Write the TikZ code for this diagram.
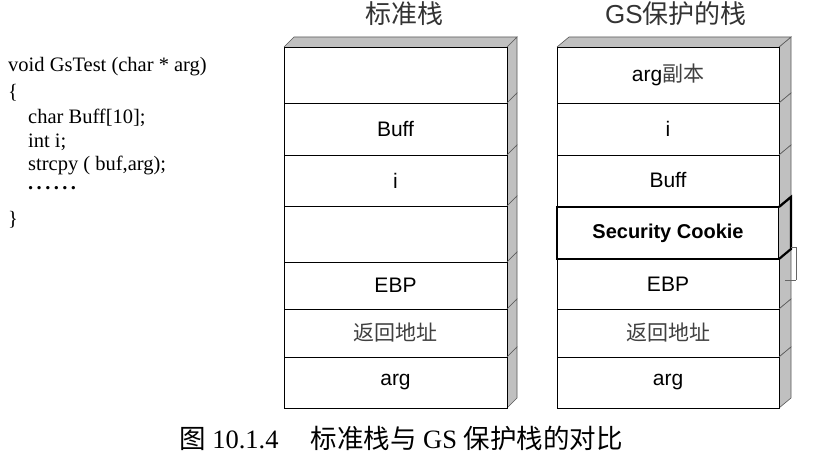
\documentclass[tikz,border=0pt]{standalone}
\usepackage{fontspec}
\setmainfont{Liberation Serif}
\setsansfont{Liberation Sans}
\newfontfamily\cjk{Noto Sans CJK SC}
\definecolor{sidegray}{RGB}{192,192,192}
\definecolor{edgegray}{RGB}{90,90,90}

\tikzset{
  cell/.style={draw, line width=0.7pt, minimum width=223pt, inner sep=0pt, outer sep=0pt,
    anchor=north west, font=\sffamily\fontsize{21}{23}\selectfont},
  face/.style={fill=sidegray, draw=edgegray, line width=0.6pt},
  codeline/.style={anchor=west, font=\fontsize{20.5}{22}\selectfont, inner sep=0pt}
}

\begin{document}
\begin{tikzpicture}[x=1pt,y=-1pt]
        \useasboundingbox (0,0) rectangle (814,454);

        % Code on the left
        \node[codeline] (c1) at (8,67) {void GsTest (char * arg)};
        \node[codeline] (c2) at (8,93) {\{};
        \node[codeline] (c3) at (28,118) {char Buff[10];};
        \node[codeline] (c4) at (28,142) {int i;};
        \node[codeline] (c5) at (28,165) {strcpy ( buf,arg);};
        \node[codeline] (c6) at (28,188) {\textbf{.\,.\,.\,.\,.\,.}};
        \node[codeline] (c7) at (8,220) {\}};

        % Titles
        \node[font=\cjk\fontsize{26}{28}\selectfont, text=black!80] (tstd) at (404,14) {标准栈};
        \node[font=\fontsize{26}{28}\selectfont, text=black!80] (tgs) at (676,14) {\sffamily GS\cjk 保护的栈};

        % Standard stack
        \foreach \t/\b/\txt [count=\n] in {47/103/{}, 103/155/Buff, 155/206/i, 206/262/{},
            262/309/EBP, 309/357/{\cjk\color{black!75}返回地址}, 357/408/arg} {
          \pgfmathsetmacro\h{\b-\t}
          \node[cell, minimum height=\h pt] (std\n) at (284,\t) {\txt};
          \filldraw[face] (std\n.north east) -- ++(10,-10) -- ([shift={(10,-10)}]std\n.south east)
            -- (std\n.south east);
          \draw[line width=0.7pt] (std\n.north east) -- (std\n.south east);
        }
        \filldraw[face] (std1.north west) -- ++(10,-10) -- ([shift={(10,-10)}]std1.north east)
          -- (std1.north east);

        % Stack with GS protection
        \foreach \t/\b/\txt [count=\n] in {47/103/{arg\cjk\color{black!75}副本}, 103/155/i, 155/206/Buff,
            206/259/{}, 259/309/EBP, 309/357/{\cjk\color{black!75}返回地址}, 357/408/arg} {
          \pgfmathsetmacro\h{\b-\t}
          \node[cell, minimum width=222pt, minimum height=\h pt] (gs\n) at (557,\t) {\txt};
          \filldraw[face] (gs\n.north east) -- ++(12,-10) -- ([shift={(12,-10)}]gs\n.south east)
            -- (gs\n.south east);
          \draw[line width=0.7pt] (gs\n.north east) -- (gs\n.south east);
        }
        \filldraw[face] (gs1.north west) -- ++(12,-10) -- ([shift={(12,-10)}]gs1.north east)
          -- (gs1.north east);

        % Security Cookie
        \node[cell, minimum width=222pt, minimum height=52pt, line width=2.2pt, font=\sffamily\bfseries\fontsize{20}{22}\selectfont]
          (cookie) at (557,207) {Security Cookie};
        \filldraw[fill=sidegray, line width=2.2pt, line join=miter] (cookie.north east) -- ++(12,-10)
          -- ([shift={(12,-10)}]cookie.south east) -- (cookie.south east);

        % small mark beside the cookie
        \draw[black!60, line width=0.4pt] (791,247) -- (796,247) -- (796,280);
        \draw[black!60, line width=0.4pt] (785,280) -- (796,280);

        % Caption
        \node[font=\fontsize{26.5}{28}\selectfont, anchor=west, inner sep=0pt] (cap) at (179,438)
          {{\cjk 图} 10.1.4\hspace{32pt}{\cjk 标准栈与} GS {\cjk 保护栈的对比}};
\end{tikzpicture}
\end{document}
